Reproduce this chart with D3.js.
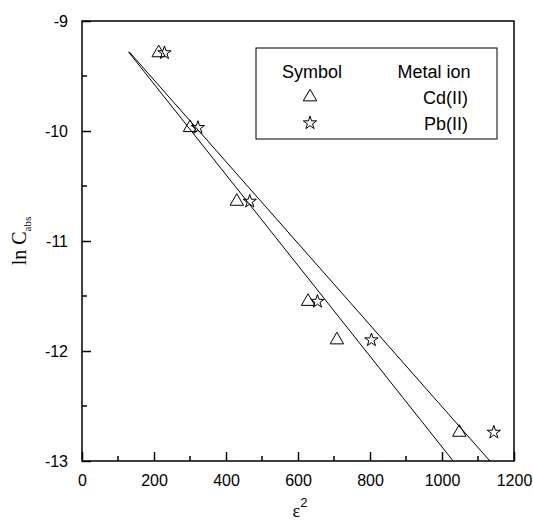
<!DOCTYPE html>
<html>
<head>
<meta charset="utf-8">
<script src="https://cdn.jsdelivr.net/npm/d3@7"></script>
<style>
  body { margin: 0; background: #fff; }
  text { font-family: "Liberation Sans", Arial, sans-serif; fill: #000; }
</style>
</head>
<body>
<div id="chart"></div>
<script>
// data
var cdX = [213, 300, 430, 628, 708, 1048];
var cdY = [-9.29, -9.97, -10.64, -11.55, -11.90, -12.74];
var pbX = [229, 322, 466, 654, 804, 1144];
var pbY = [-9.29, -9.97, -10.64, -11.55, -11.90, -12.74];
// fitted lines, end points [x, y]
var cdFit = [[129, -9.28], [1031, -13]];
var pbFit = [[131, -9.28], [1133, -13]];
var xTicks = [0, 200, 400, 600, 800, 1000, 1200];
var yTicks = [-13, -12, -11, -10, -9];

var margin = { top: 21, left: 82, right: 19, bottom: 60 },
    width = 533 - margin.left - margin.right,
    height = 521 - margin.top - margin.bottom;

var svg = d3.select("#chart")
      .append("svg")
      .attr("width", 533)
      .attr("height", 521)
      .append("g")
      .attr("transform", "translate(" + margin.left + "," + margin.top + ")");

var x = d3.scaleLinear().domain([0, 1200]).range([0, width]);
var y = d3.scaleLinear().domain([-13, -9]).range([height, 0]);

// minor ticks (inside)
var xMinor = d3.range(100, 1200, 200);
var yMinor = [-12.5, -11.5, -10.5, -9.5];

svg.selectAll(".xminor").data(xMinor).enter().append("line")
  .attr("x1", function(d) { return x(d); }).attr("x2", function(d) { return x(d); })
  .attr("y1", height).attr("y2", height - 5)
  .attr("stroke", "#000").attr("stroke-width", 1.5);
svg.selectAll(".yminor").data(yMinor).enter().append("line")
  .attr("y1", function(d) { return y(d); }).attr("y2", function(d) { return y(d); })
  .attr("x1", 0).attr("x2", 5)
  .attr("stroke", "#000").attr("stroke-width", 1.5);

var xAxis = d3.axisBottom(x).tickValues(xTicks).tickFormat(d3.format("d"))
  .tickSizeInner(-9).tickSizeOuter(0).tickPadding(14);
var yAxis = d3.axisLeft(y).tickValues(yTicks).tickFormat(d3.format("d"))
  .tickSizeInner(-9).tickSizeOuter(0).tickPadding(14);

var gx = svg.append("g").attr("transform", "translate(0," + height + ")").call(xAxis);
var gy = svg.append("g").call(yAxis);
[gx, gy].forEach(function(g) {
  g.select(".domain").remove();
  g.selectAll("line").attr("stroke", "#000").attr("stroke-width", 1.5);
  g.selectAll("text").style("font-size", "16px").style("font-family", "Liberation Sans, Arial, sans-serif");
});
gy.selectAll("text").text(function(d) { return "-" + Math.abs(d); });

// frame
svg.append("rect")
  .attr("width", width).attr("height", height)
  .attr("fill", "none").attr("stroke", "#000").attr("stroke-width", 1.5);

// fit lines
var line = d3.line().x(function(d) { return x(d[0]); }).y(function(d) { return y(d[1]); });
[cdFit, pbFit].forEach(function(f) {
  svg.append("path").attr("d", line(f)).attr("fill", "none").attr("stroke", "#000").attr("stroke-width", 1);
});

var tri = d3.symbol().type(d3.symbolTriangle).size(78);
var star = d3.symbol().type(d3.symbolStar).size(55);

svg.selectAll(".cd").data(cdX).enter().append("path")
  .attr("d", tri)
  .attr("transform", function(d, i) { return "translate(" + x(d) + "," + y(cdY[i]) + ")"; })
  .attr("fill", "none").attr("stroke", "#000").attr("stroke-width", 1);
svg.selectAll(".pb").data(pbX).enter().append("path")
  .attr("d", star)
  .attr("transform", function(d, i) { return "translate(" + x(d) + "," + y(pbY[i]) + ")"; })
  .attr("fill", "none").attr("stroke", "#000").attr("stroke-width", 1);

// legend
var lg = svg.append("g").attr("transform", "translate(" + (256 - margin.left) + "," + (48 - margin.top) + ")");
lg.append("rect").attr("width", 241).attr("height", 91)
  .attr("fill", "#fff").attr("stroke", "#000").attr("stroke-width", 1);
lg.append("text").attr("x", 56).attr("y", 30).attr("text-anchor", "middle").style("font-size", "18px").text("Symbol");
lg.append("text").attr("x", 178).attr("y", 30).attr("text-anchor", "middle").style("font-size", "18px").text("Metal ion");
lg.append("text").attr("x", 212).attr("y", 56).attr("text-anchor", "end").style("font-size", "18px").text("Cd(II)");
lg.append("text").attr("x", 212).attr("y", 82).attr("text-anchor", "end").style("font-size", "18px").text("Pb(II)");
lg.append("path").attr("d", tri).attr("transform", "translate(54,49)")
  .attr("fill", "none").attr("stroke", "#000");
lg.append("path").attr("d", star).attr("transform", "translate(54,75)")
  .attr("fill", "none").attr("stroke", "#000");

// axis titles
var yl = svg.append("text")
  .attr("transform", "translate(" + (-56) + "," + (height / 2) + ") rotate(-90)")
  .attr("text-anchor", "middle")
  .style("font-family", "Liberation Serif, Times New Roman, serif")
  .style("font-size", "20px");
yl.append("tspan").text("ln C");
yl.append("tspan").attr("dy", 5).style("font-size", "11px").text("abs");

var xl = svg.append("text")
  .attr("x", width / 2 + 2).attr("y", height + 56)
  .attr("text-anchor", "middle")
  .style("font-family", "Liberation Serif, Times New Roman, serif")
  .style("font-size", "18px");
xl.append("tspan").text("ε");
xl.append("tspan").attr("dy", -10).style("font-family", "Liberation Sans, Arial, sans-serif").style("font-size", "13px").text("2");
</script>
</body>
</html>
